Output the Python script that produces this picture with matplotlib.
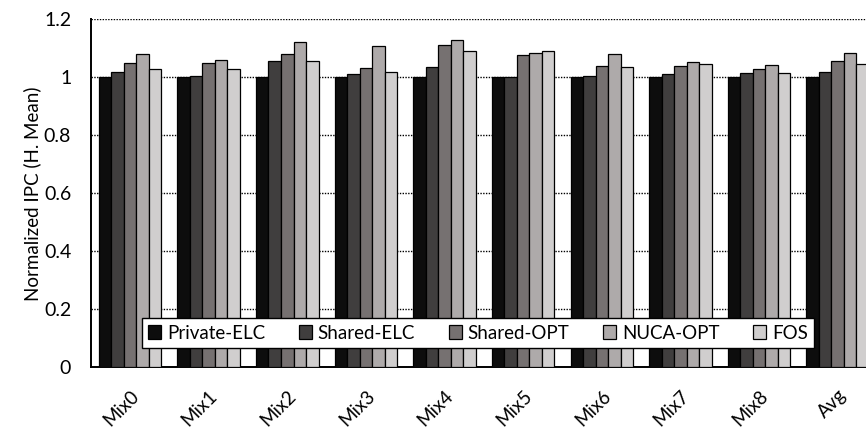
import matplotlib
matplotlib.use("Agg")
import matplotlib.pyplot as plt
import numpy as np

plt.rcParams["font.family"] = ["Lato", "DejaVu Sans"]

CATEGORIES = ["Mix0", "Mix1", "Mix2", "Mix3", "Mix4", "Mix5", "Mix6", "Mix7", "Mix8", "Avg"]
SCHEMES = ["Private-ELC", "Shared-ELC", "Shared-OPT", "NUCA-OPT", "FOS"]

private_elc = [1.000, 1.000, 1.000, 1.000, 1.000, 1.000, 1.000, 1.000, 1.000, 1.000]
shared_elc = [1.018, 1.006, 1.056, 1.012, 1.036, 1.000, 1.003, 1.010, 1.016, 1.018]
shared_opt = [1.048, 1.049, 1.081, 1.031, 1.110, 1.078, 1.038, 1.038, 1.030, 1.055]
nuca_opt = [1.079, 1.061, 1.121, 1.108, 1.128, 1.085, 1.080, 1.052, 1.043, 1.084]
fos = [1.029, 1.028, 1.057, 1.018, 1.092, 1.091, 1.034, 1.047, 1.014, 1.046]

COLORS = ["#0d0d0d", "#403e3e", "#767171", "#aeaaaa", "#d0cece"]
YTICKS = [0, 0.2, 0.4, 0.6, 0.8, 1.0, 1.2]
YTICK_LABELS = ["0", "0.2", "0.4", "0.6", "0.8", "1", "1.2"]

series = [private_elc, shared_elc, shared_opt, nuca_opt, fos]

fig = plt.figure(figsize=(8.66, 4.28), dpi=100)
# right edge of the plot area sits just outside the image, as in the original
ax = fig.add_axes([0.1047, 0.1418, 0.908, 0.813])

x = np.arange(len(CATEGORIES))
w = 0.159
for i, (vals, name, col) in enumerate(zip(series, SCHEMES, COLORS)):
    ax.bar(x + (i - 2) * w, vals, width=w, color=col, edgecolor="black",
           linewidth=0.9, label=name, zorder=3)

ax.set_xlim(-0.5, len(CATEGORIES) - 0.5)
ax.set_ylim(0, 1.2)
ax.set_yticks(YTICKS, YTICK_LABELS)
ax.yaxis.grid(True, linestyle=(0, (1, 1)), color="black", linewidth=1.0, zorder=0)
ax.set_axisbelow(True)
ax.tick_params(axis="y", length=0, labelsize=14, pad=14)
ax.tick_params(axis="x", length=0, labelsize=13.5, pad=14)
ax.set_xticks(x, CATEGORIES, rotation=45, ha="right", rotation_mode="anchor")
for spine in ("top", "right"):
    ax.spines[spine].set_visible(False)
for spine in ("left", "bottom"):
    ax.spines[spine].set_linewidth(1.4)
ax.set_ylabel("Normalized IPC (H. Mean)", fontsize=13.5, labelpad=2)

leg = ax.legend(loc="lower left", bbox_to_anchor=(0.065, 0.055), ncol=5,
                fontsize=13.5, frameon=True, fancybox=False, borderpad=0.35,
                handlelength=0.7, handleheight=0.7, handletextpad=0.3,
                columnspacing=1.8, borderaxespad=0)
leg.get_frame().set_edgecolor("black")
leg.get_frame().set_linewidth(1.0)
leg.get_frame().set_alpha(1)
leg.set_zorder(5)

fig.savefig("out.png", dpi=100)
